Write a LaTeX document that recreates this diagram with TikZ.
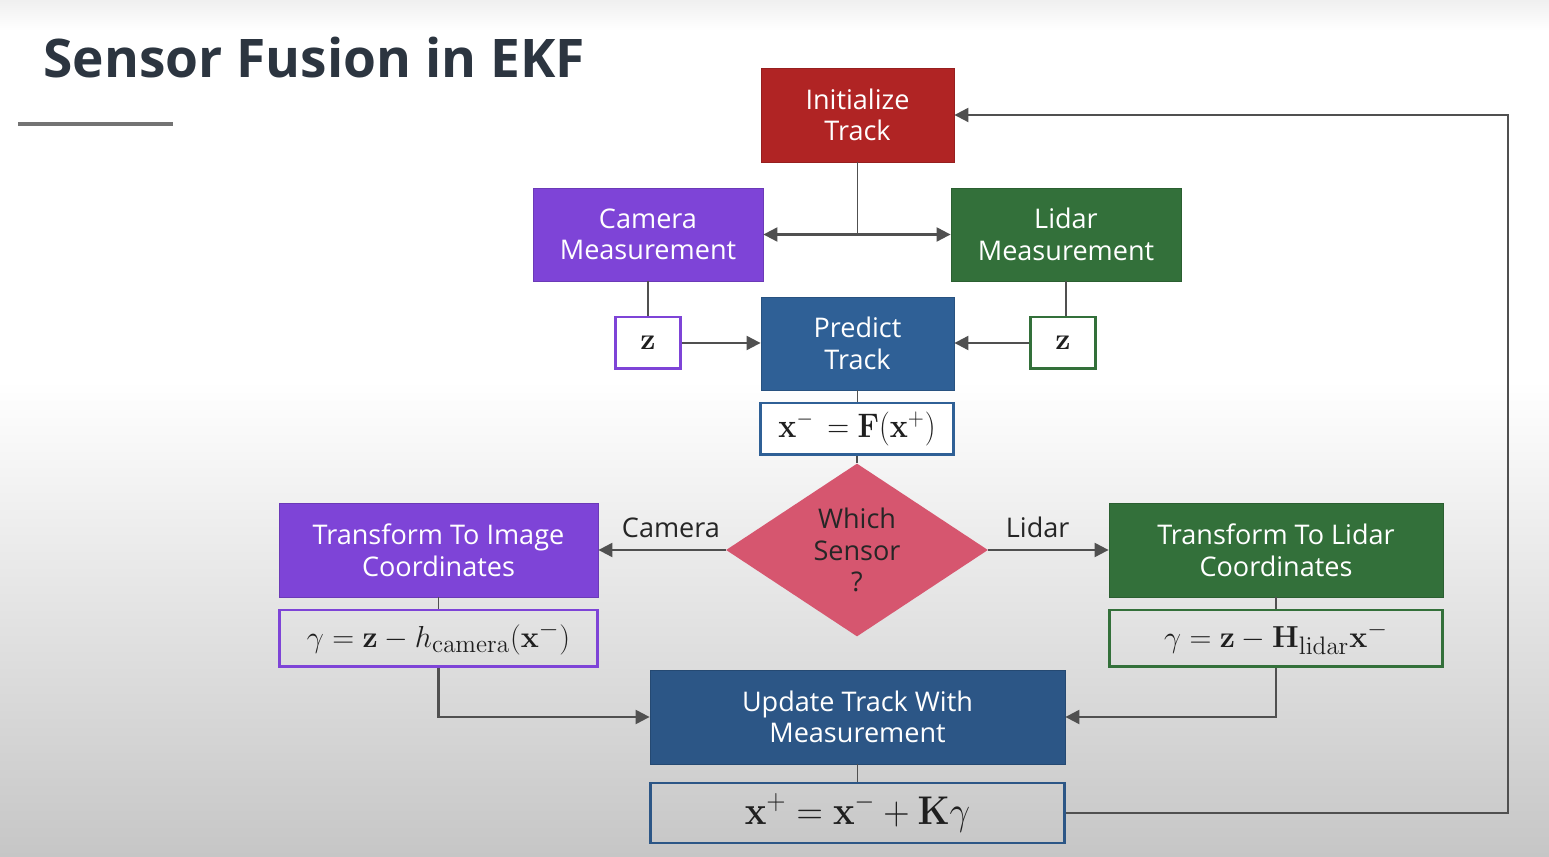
\documentclass[tikz,border=0pt]{standalone}
\usepackage[no-math]{fontspec}
\setmainfont{Open Sans}
\usepackage{graphicx}
\usetikzlibrary{arrows.meta,shapes.geometric}
\definecolor{cRed}{RGB}{176,36,36}
\definecolor{cPurple}{RGB}{126,68,215}
\definecolor{cGreen}{RGB}{51,112,58}
\definecolor{cBlue}{RGB}{47,96,150}
\definecolor{cBlueD}{RGB}{44,86,134}
\definecolor{cPink}{RGB}{214,86,111}
\definecolor{cTitle}{RGB}{44,53,64}
\definecolor{cLine}{RGB}{80,80,80}
\definecolor{cBot}{RGB}{198,198,198}
\begin{document}
\begin{tikzpicture}[x=0.02cm,y=-0.02cm,
  box/.style={rectangle, draw=#1!85!black, line width=0.5pt, fill=#1, text=white,
    font=\fontsize{15.4}{18}\selectfont, align=center, inner sep=0pt},
  frm/.style={rectangle, draw=#1, line width=1.7pt, inner sep=0pt, text=black!88},
  conn/.style={draw=cLine, line width=0.9pt},
  arr/.style={draw=cLine, line width=1.2pt, -{Triangle[length=0.28cm,width=0.28cm]}},
  lbl/.style={font=\fontsize{15.4}{18}\selectfont, text=black!85}]
\useasboundingbox (0,0) rectangle (1549,857);
\fill[white] (0,0) rectangle (1549,857);
\shade[top color=white, bottom color=cBot] (0,380) rectangle (1549,857);
\shade[top color=black!6, bottom color=white] (0,0) rectangle (1549,30);
% title
\node[anchor=base west, inner sep=0pt, text=cTitle, font=\fontsize{30.3}{36}\selectfont\bfseries] (title) at (43,78) {Sensor Fusion in EKF};
\draw[black!55, line width=2pt] (18,124) -- (173,124);
% nodes
\node[box=cRed, minimum width=3.86cm, minimum height=1.88cm] (init) at (857.5,115) {Initialize\\Track};
\node[box=cPurple, minimum width=4.6cm, minimum height=1.86cm] (camm) at (648,234.5) {Camera\\Measurement};
\node[box=cGreen, minimum width=4.6cm, minimum height=1.86cm] (lidm) at (1066,234.5) {Lidar\\Measurement};
\node[box=cBlue, minimum width=3.86cm, minimum height=1.86cm] (pred) at (857.5,343.5) {Predict\\Track};
\node[frm=cPurple, fill=white, minimum width=1.3cm, minimum height=1.04cm, font=\fontsize{18.5}{20}\selectfont] (zc) at (648,343) {$\mathbf{z}$};
\node[frm=cGreen, fill=white, minimum width=1.3cm, minimum height=1.04cm, font=\fontsize{18.5}{20}\selectfont] (zl) at (1063,343) {$\mathbf{z}$};
\node[frm=cBlue, fill=white, minimum width=3.88cm, minimum height=1.04cm, font=\fontsize{18.7}{20}\selectfont] (pf) at (857,429) {\scalebox{1}[1.12]{$\mathbf{x}^{-}\, = \mathbf{F}(\mathbf{x}^{+})$}};
\node[diamond, fill=cPink, minimum width=5.24cm, minimum height=3.46cm, inner sep=0pt] (dia) at (857,550) {};
\node[lbl, align=center, inner sep=0pt] (diat) at (dia.center) {Which\\Sensor\\?};
\node[box=cPurple, minimum width=6.38cm, minimum height=1.88cm] (ti) at (438.5,550) {Transform To Image\\Coordinates};
\node[box=cGreen, minimum width=6.68cm, minimum height=1.88cm] (tl) at (1276,550) {Transform To Lidar\\Coordinates};
\node[frm=cPurple, minimum width=6.38cm, minimum height=1.14cm, font=\fontsize{18.9}{20}\selectfont] (cf) at (438.5,638.5) {$\gamma = \mathbf{z} - h_{\mathrm{camera}}(\mathbf{x}^{-})$};
\node[frm=cGreen, minimum width=6.68cm, minimum height=1.14cm, font=\fontsize{18.9}{20}\selectfont] (lf) at (1276,638.5) {$\gamma = \mathbf{z} - \mathbf{H}_{\mathrm{lidar}}\mathbf{x}^{-}$};
\node[box=cBlueD, minimum width=8.3cm, minimum height=1.88cm] (upd) at (857.5,717) {Update Track With\\Measurement};
\node[frm=cBlueD, minimum width=8.3cm, minimum height=1.2cm, font=\fontsize{21.8}{24}\selectfont] (ff) at (857.5,813) {\scalebox{1}[1.1]{$\mathbf{x}^{+} = \mathbf{x}^{-} + \mathbf{K}\gamma$}};
% connectors
\coordinate (split) at (857.5,234.5);
\coordinate (loop) at (1508,115);
\draw[conn] (init.south) -- (split);
\draw[arr] (split) -- (camm.east);
\draw[arr] (split) -- (lidm.west);
\draw[conn] (camm.south) -- (zc.north);
\draw[conn] (lidm.south) -- (lidm.south |- zl.north);
\draw[arr] (zc.east) -- (pred.west |- zc.east);
\draw[arr] (zl.west) -- (pred.east |- zl.west);
\draw[conn] (pred.south) -- (pred.south |- pf.north);
\draw[conn] (pf.south) -- (dia.north);
\draw[arr] (dia.west) -- (ti.east) node[lbl, pos=0.43, above=3pt] (lcam) {Camera};
\draw[arr] (dia.east) -- (tl.west) node[lbl, pos=0.41, above=3pt] (llid) {Lidar};
\draw[conn] (ti.south) -- (cf.north);
\draw[conn] (tl.south) -- (lf.north);
\draw[arr] (cf.south) |- (upd.west);
\draw[arr] (lf.south) |- (upd.east);
\draw[conn] (upd.south) -- (ff.north);
\draw[arr] (ff.east) -| (loop) -- (init.east);
\end{tikzpicture}
\end{document}
